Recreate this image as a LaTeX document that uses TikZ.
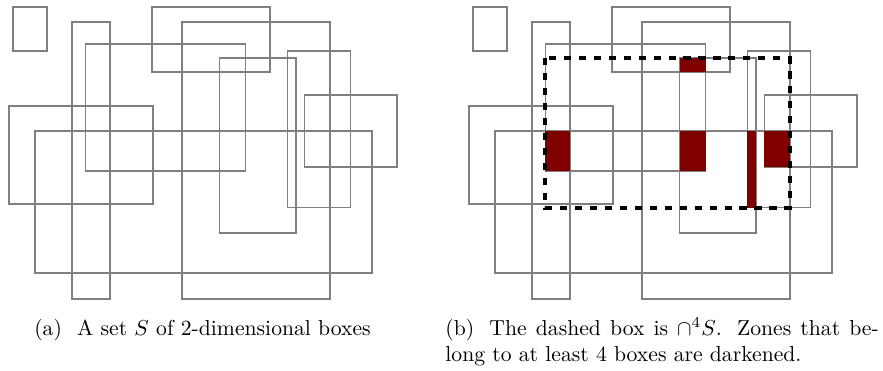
\documentclass[tikz,border=0pt]{standalone}
\usetikzlibrary{calc}
\definecolor{boxgray}{RGB}{128,128,128}
\definecolor{darkzone}{RGB}{128,0,0}
\colorlet{Zcolor}{darkzone}

% the ten boxes of S, corners in pixels
\newcommand{\boxset}{%
  \foreach \xa/\ya/\xb/\yb in {13/7/47/51, 72/22/110/299, 152/7/270/72,
      182/22/330/299, 85.3/44/245.7/171, 219.7/58/296/233, 287.3/51/350.3/207.7,
      304.3/95/397/167, 9/106/153/204, 35/131/372/273}
    \draw (\xa,\ya) rectangle (\xb,\yb);}

\begin{document}
\begin{tikzpicture}[x=0.4615pt,y=-0.4615pt]
\useasboundingbox (0,0) rectangle (883,370);

\begin{scope}[every path/.style={draw=boxgray,line width=0.6pt}]
\boxset
\end{scope}

\begin{scope}[shift={(460,0)}]
\begin{scope}[every path/.style={draw=boxgray,line width=0.6pt}]
\boxset
\end{scope}
\begin{scope}[every path/.style={fill=Zcolor}]
  \path (85.3,131) rectangle (110,171);
  \path (219.7,58) rectangle (245.7,72);
  \path (219.7,131) rectangle (245.7,171);
  \path (287.3,131) rectangle (296,207.7);
  \path (304.3,131) rectangle (329.7,167);
\end{scope}
\draw[line width=1.8pt,dash pattern=on 3.3pt off 3.6pt] (85.3,58) rectangle (329.7,207.7);
\end{scope}

\node[anchor=base,inner sep=0pt] (capa) at (202.5,335)
  {(a)\hskip.7em A set $S$ of 2-dimensional boxes};
\node[anchor=base west,inner sep=0pt,align=left] (capb) at (445,361)
  {\makebox[200pt][s]{(b)\hskip.7em The dashed box is $\cap^4 S$. Zones that be-}\\
   long to at least 4 boxes are darkened.};
\end{tikzpicture}
\end{document}
